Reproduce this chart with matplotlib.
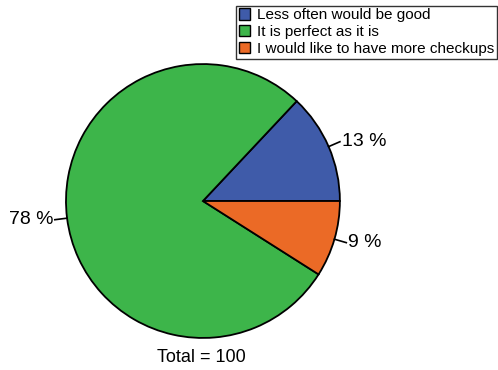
import matplotlib.pyplot as plt
import numpy as np

plt.rcParams['font.family'] = ['Liberation Sans', 'DejaVu Sans']

labels = ['Less often would be good', 'It is perfect as it is', 'I would like to have more checkups']
values = [13, 78, 9]
colors = ['#3F5BA9', '#3DB54A', '#EB6A26']
total = sum(values)

fig = plt.figure(figsize=(4.98, 3.70), dpi=100)
ax = fig.add_axes([0.1325, 0.0865, 0.550, 0.7405])

wedges, _ = ax.pie(values, colors=colors, startangle=0, counterclock=True, radius=1,
                   wedgeprops=dict(edgecolor='black', linewidth=1.3))

# percent labels with short leader lines
start = 0
for v in values:
    mid = np.deg2rad(start + v / total * 360 / 2)
    start += v / total * 360
    x0, y0 = np.cos(mid), np.sin(mid)
    x1, y1 = 1.09 * x0, 1.09 * y0
    ax.plot([x0, x1], [y0, y1], color='black', lw=1.2, clip_on=False)
    ha = 'left' if x0 > 0 else 'right'
    dx = 0.012 if x0 > 0 else -0.012
    ax.text(x1 + dx, y1, f'{round(v / total * 100)} %', ha=ha, va='center', fontsize=14)

ax.set_xlim(-1, 1)
ax.set_ylim(-1, 1)
ax.set_aspect('equal')
ax.axis('off')

fig.text(201 / 498, 1 - 357 / 370, f'Total = {total}', ha='center', va='center', fontsize=13)

leg = fig.legend(wedges, labels, loc='upper right', bbox_to_anchor=(0.998, 0.985),
                 fontsize=11, frameon=True, fancybox=False, edgecolor='black',
                 handlelength=0.75, handleheight=0.75, handletextpad=0.45,
                 labelspacing=0.18, borderpad=0.18, borderaxespad=0)
leg.get_frame().set_linewidth(1.0)
for h in leg.legend_handles:
    h.set_linewidth(1.0)

fig.savefig('out.png', dpi=100)
